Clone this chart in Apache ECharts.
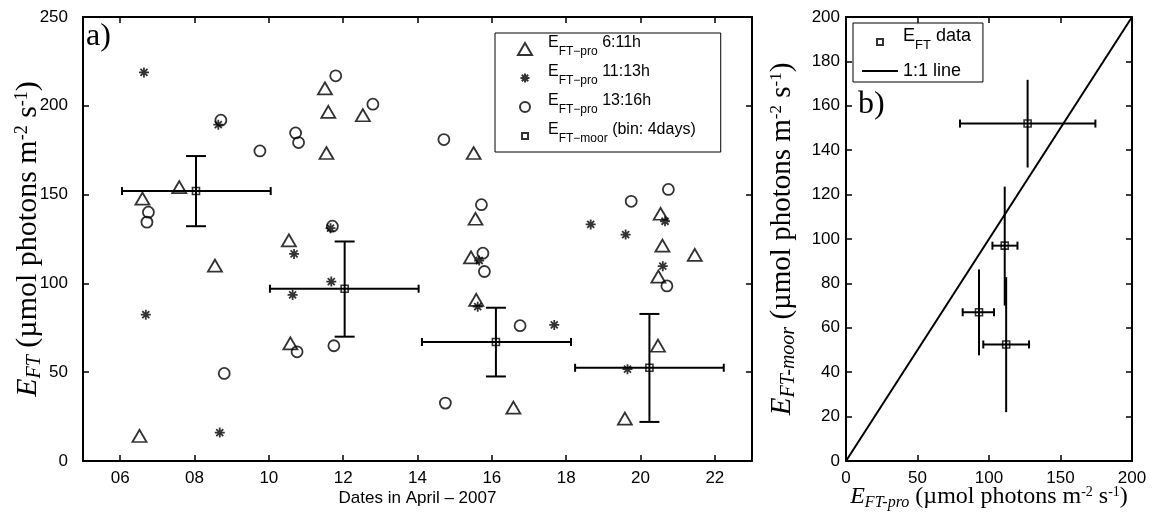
<!DOCTYPE html>
<html><head><meta charset="utf-8">
<script src="https://cdn.jsdelivr.net/npm/echarts@6/dist/echarts.min.js"></script>
<style>html,body{margin:0;padding:0;background:#fff}#c{width:1152px;height:515px}</style>
</head><body><div id="c"></div>
<script>
// ---- Panel a data ----
const triDays = [6.52, 6.60, 7.59, 8.55, 10.54, 10.58, 11.51, 11.60, 11.55, 12.53, 15.51, 15.56, 15.44, 15.58, 16.58, 19.58, 20.47, 20.48, 20.54, 20.59, 21.46];
const triVals = [14.1, 147.7, 154.2, 110, 124.2, 66.2, 209.8, 196.6, 173.4, 194.7, 173.4, 136.4, 114.7, 90.7, 30.1, 23.9, 64.9, 103.8, 139.2, 121.3, 116.1];
const astDays = [6.64, 6.69, 8.64, 8.68, 10.64, 10.68, 11.66, 11.68, 15.62, 15.66, 17.68, 18.66, 19.60, 19.65, 20.60, 20.66];
const astVals = [218.8, 82.4, 189.4, 16, 93.5, 116.6, 131.1, 101, 86.9, 112.9, 76.6, 133.2, 127.5, 51.7, 109.7, 135];
const cirDays = [6.72, 6.76, 8.71, 8.80, 9.76, 10.72, 10.76, 10.80, 11.71, 11.75, 11.80, 12.80, 14.71, 14.75, 15.72, 15.76, 15.80, 16.76, 19.75, 20.71, 20.75];
const cirVals = [134.5, 140.1, 191.9, 49.3, 174.6, 184.7, 61.5, 179.3, 132.2, 64.9, 216.9, 200.9, 181, 32.6, 144.3, 117, 106.7, 76.2, 146.2, 98.6, 152.9];
const binCenter = [8.04, 12.04, 16.11, 20.24];
const binStart = [6.05, 10.03, 14.12, 18.24];
const binEnd = [10.05, 14.03, 18.13, 22.24];
const moorMean = [152, 97, 67, 52.5];
const moorLo = [132.2, 70, 47.6, 22];
const moorHi = [171.7, 123.6, 86.3, 82.8];
const dayTicks = [6, 8, 10, 12, 14, 16, 18, 20, 22];
// ---- Panel b data ----
const proMean = [127, 111, 93, 112];
const proLo = [79.7, 102.4, 81.6, 96];
const proHi = [174.4, 119.9, 103.5, 128];
const oneToOne = [0, 200];

const SANS = 'Liberation Sans, Arial, Helvetica, sans-serif';
const SERIF = 'Liberation Serif, Times New Roman, serif';
const TRI = 'path://M0 12 L7 0 L14 12 Z';
const AST = 'path://M0 5 L10 5 M5 0 L5 10 M1.5 1.5 L8.5 8.5 M8.5 1.5 L1.5 8.5';
const AST_ICON = 'path://M0 0 M12 12 M1.5 6 L10.5 6 M6 1.5 L6 10.5 M2.8 2.8 L9.2 9.2 M9.2 2.8 L2.8 9.2';
const SQ_ICON = 'path://M0 0 M12 12 M3 3 L9 3 L9 9 L3 9 Z';
const CIR_ICON = 'path://M0 0 M12 12 M1 6 A5 5 0 1 1 11 6 A5 5 0 1 1 1 6 Z';
const CLEAR = 'rgba(0,0,0,0)';

function nameRich(fs) {
  return {
    i: {fontFamily: SERIF, fontStyle: 'italic', fontSize: fs, lineHeight: fs + 4, color: '#000'},
    is: {fontFamily: SERIF, fontStyle: 'italic', fontSize: Math.round(fs * 0.68), lineHeight: Math.round(fs * 0.68), padding: [fs + 4 - Math.round(fs * 0.68), 0, 0, 0], color: '#000'},
    n: {fontFamily: SERIF, fontSize: fs, lineHeight: fs + 4, color: '#000'},
    sup: {fontFamily: SERIF, fontSize: Math.round(fs * 0.6), lineHeight: Math.round(fs * 0.6), padding: [2, 0, fs + 2 - Math.round(fs * 0.6), 0], color: '#000'}
  };
}
const unitTail = '{n| (µmol photons m}{sup|-2}{n| s}{sup|-1}{n|)}';
function legRich(fs, sfs) {
  return {
    m: {fontFamily: SANS, fontSize: fs, lineHeight: fs, padding: [0, 0, 12, 0], color: '#000'},
    s: {fontFamily: SANS, fontSize: sfs, lineHeight: sfs, padding: [11, 0, 17 - sfs, 0], color: '#000'},
    c: {fontFamily: SANS, fontSize: fs, lineHeight: fs + 12, color: '#000'}
  };
}
const legText = {
  'tri': '{m|E}{s|FT−pro}{m| 6:11h}',
  'ast': '{m|E}{s|FT−pro}{m| 11:13h}',
  'cir': '{m|E}{s|FT−pro}{m| 13:16h}',
  'bin': '{m|E}{s|FT−moor}{m| (bin: 4days)}',
  'EFT data': '{m|E}{s|FT}{m| data}',
  '1:1 line': '{c|1:1 line}'
};

function axLine() { return {show: true, onZero: false, lineStyle: {color: '#000', width: 2}}; }
function tick(custom) { const t = {show: true, inside: true, length: 6, lineStyle: {color: '#000', width: 1.5}}; if (custom) t.customValues = custom; return t; }
function lab(margin, fs, custom, fmt) {
  const l = {show: true, color: '#000', fontSize: fs, fontFamily: SANS, margin: margin};
  if (custom) l.customValues = custom; if (fmt) l.formatter = fmt; return l;
}
const noLab = {show: false};

function errRender(vCaps) {
  return function (params, api) {
    const x = api.value(0), y = api.value(1);
    const c = api.coord([x, y]);
    const l = api.coord([api.value(2), y]);
    const r = api.coord([api.value(3), y]);
    const b = api.coord([x, api.value(4)]);
    const t = api.coord([x, api.value(5)]);
    const st = {stroke: '#000', lineWidth: 2};
    const ch = [
      {type: 'line', shape: {x1: l[0], y1: c[1], x2: r[0], y2: c[1]}, style: st},
      {type: 'line', shape: {x1: l[0], y1: c[1] - 4, x2: l[0], y2: c[1] + 4}, style: st},
      {type: 'line', shape: {x1: r[0], y1: c[1] - 4, x2: r[0], y2: c[1] + 4}, style: st},
      {type: 'line', shape: {x1: c[0], y1: b[1], x2: c[0], y2: t[1]}, style: st}
    ];
    if (vCaps) {
      ch.push({type: 'line', shape: {x1: c[0] - 10, y1: b[1], x2: c[0] + 10, y2: b[1]}, style: st});
      ch.push({type: 'line', shape: {x1: c[0] - 10, y1: t[1], x2: c[0] + 10, y2: t[1]}, style: st});
    }
    return {type: 'group', children: ch};
  };
}

const pairs = (xs, ys) => xs.map((v, i) => [v, ys[i]]);
const binErrData = binCenter.map((v, i) => [v, moorMean[i], binStart[i], binEnd[i], moorLo[i], moorHi[i]]);
const bErrData = proMean.map((v, i) => [v, moorMean[i], proLo[i], proHi[i], moorLo[i], moorHi[i]]);

const chart = echarts.init(document.getElementById('c'), null, {renderer: 'canvas'});
chart.setOption({
  animation: false,
  backgroundColor: '#fff',
  grid: [
    {left: 83, top: 17, width: 669, height: 444, containLabel: false, outerBoundsMode: 'none'},
    {left: 846, top: 17, width: 286, height: 444, containLabel: false, outerBoundsMode: 'none'}
  ],
  xAxis: [
    {gridIndex: 0, type: 'value', min: 5, max: 23, position: 'bottom', axisLine: axLine(), axisTick: tick(dayTicks),
     axisLabel: lab(9, 17, dayTicks, v => String(v).padStart(2, '0')), splitLine: {show: false},
     name: 'Dates in April – 2007', nameLocation: 'middle', nameGap: 29, nameMoveOverlap: false,
     nameTextStyle: {fontFamily: SANS, fontSize: 17, color: '#000', verticalAlign: 'top'}},
    {gridIndex: 0, type: 'value', min: 5, max: 23, position: 'top', axisLine: axLine(), axisTick: tick(dayTicks), axisLabel: noLab, splitLine: {show: false}},
    {gridIndex: 1, type: 'value', min: 0, max: 200, interval: 50, position: 'bottom', axisLine: axLine(), axisTick: tick(), axisLabel: lab(9, 17), splitLine: {show: false},
     name: '{i|E}{is|FT-pro}' + unitTail, nameLocation: 'middle', nameGap: 22, nameMoveOverlap: false, nameTextStyle: {rich: nameRich(24), verticalAlign: 'top'}},
    {gridIndex: 1, type: 'value', min: 0, max: 200, interval: 50, position: 'top', axisLine: axLine(), axisTick: tick(), axisLabel: noLab, splitLine: {show: false}}
  ],
  yAxis: [
    {gridIndex: 0, type: 'value', min: 0, max: 250, interval: 50, position: 'left', axisLine: axLine(), axisTick: tick(), axisLabel: lab(15, 17), splitLine: {show: false},
     name: '{i|E}{is|FT}' + unitTail, nameLocation: 'middle', nameGap: 38, nameMoveOverlap: false, nameRotate: 90, nameTextStyle: {rich: nameRich(30)}},
    {gridIndex: 0, type: 'value', min: 0, max: 250, interval: 50, position: 'right', axisLine: axLine(), axisTick: tick(), axisLabel: noLab, splitLine: {show: false}},
    {gridIndex: 1, type: 'value', min: 0, max: 200, interval: 20, position: 'left', axisLine: axLine(), axisTick: tick(), axisLabel: lab(6, 17), splitLine: {show: false},
     name: '{i|E}{is|FT-moor}' + unitTail, nameLocation: 'middle', nameGap: 47, nameMoveOverlap: false, nameRotate: 90, nameTextStyle: {rich: nameRich(29)}},
    {gridIndex: 1, type: 'value', min: 0, max: 200, interval: 20, position: 'right', axisLine: axLine(), axisTick: tick(), axisLabel: noLab, splitLine: {show: false}}
  ],
  legend: [
    {left: 495, top: 33, orient: 'vertical', selectedMode: false, itemWidth: 36, itemHeight: 12, itemGap: 1,
     padding: [2, 25, 2, 22], borderColor: '#000', borderWidth: 1, backgroundColor: '#fff',
     data: [{name: 'tri', icon: TRI}, {name: 'ast', icon: AST_ICON}, {name: 'cir', icon: CIR_ICON}, {name: 'bin', icon: SQ_ICON}],
     formatter: n => legText[n], textStyle: {rich: legRich(16, 12)}},
    {left: 853, top: 23, orient: 'vertical', selectedMode: false, itemWidth: 36, itemHeight: 12, itemGap: 5,
     padding: [4, 12, 2, 8], borderColor: '#000', borderWidth: 1, backgroundColor: '#fff',
     data: [{name: 'EFT data', icon: SQ_ICON}, {name: '1:1 line'}],
     formatter: n => legText[n], textStyle: {rich: legRich(18, 13)}}
  ],
  graphic: [
    {type: 'text', left: 86, top: 21, style: {text: 'a)', font: '32px "Liberation Serif", serif', fill: '#000'}},
    {type: 'text', left: 858, top: 89, style: {text: 'b)', font: '32px "Liberation Serif", serif', fill: '#000'}}
  ],
  series: [
    {name: 'tri', type: 'scatter', xAxisIndex: 0, yAxisIndex: 0, symbol: TRI, symbolSize: [14, 12], data: pairs(triDays, triVals),
     itemStyle: {color: CLEAR, borderColor: '#000', borderWidth: 1.8}, z: 3},
    {name: 'ast', type: 'scatter', xAxisIndex: 0, yAxisIndex: 0, symbol: AST, symbolSize: 10, data: pairs(astDays, astVals),
     itemStyle: {color: CLEAR, borderColor: '#000', borderWidth: 1.8}, z: 3},
    {name: 'cir', type: 'scatter', xAxisIndex: 0, yAxisIndex: 0, symbol: 'circle', symbolSize: 11, data: pairs(cirDays, cirVals),
     itemStyle: {color: CLEAR, borderColor: '#000', borderWidth: 1.8}, z: 3},
    {name: 'binErr', type: 'custom', xAxisIndex: 0, yAxisIndex: 0, renderItem: errRender(true), data: binErrData,
     encode: {x: [0, 2, 3], y: [1, 4, 5]}, z: 2},
    {name: 'bin', type: 'scatter', xAxisIndex: 0, yAxisIndex: 0, symbol: 'rect', symbolSize: 7, data: pairs(binCenter, moorMean),
     itemStyle: {color: CLEAR, borderColor: '#000', borderWidth: 1.6}, z: 4},
    {name: '1:1 line', type: 'line', xAxisIndex: 2, yAxisIndex: 2, data: pairs(oneToOne, oneToOne), showSymbol: false, symbol: 'none',
     lineStyle: {color: '#000', width: 2}, itemStyle: {color: CLEAR, borderWidth: 0}, z: 2},
    {name: 'bErr', type: 'custom', xAxisIndex: 2, yAxisIndex: 2, renderItem: errRender(false), data: bErrData,
     encode: {x: [0, 2, 3], y: [1, 4, 5]}, z: 3},
    {name: 'EFT data', type: 'scatter', xAxisIndex: 2, yAxisIndex: 2, symbol: 'rect', symbolSize: 7, data: pairs(proMean, moorMean),
     itemStyle: {color: CLEAR, borderColor: '#000', borderWidth: 1.6}, z: 4}
  ]
});
</script></body></html>
